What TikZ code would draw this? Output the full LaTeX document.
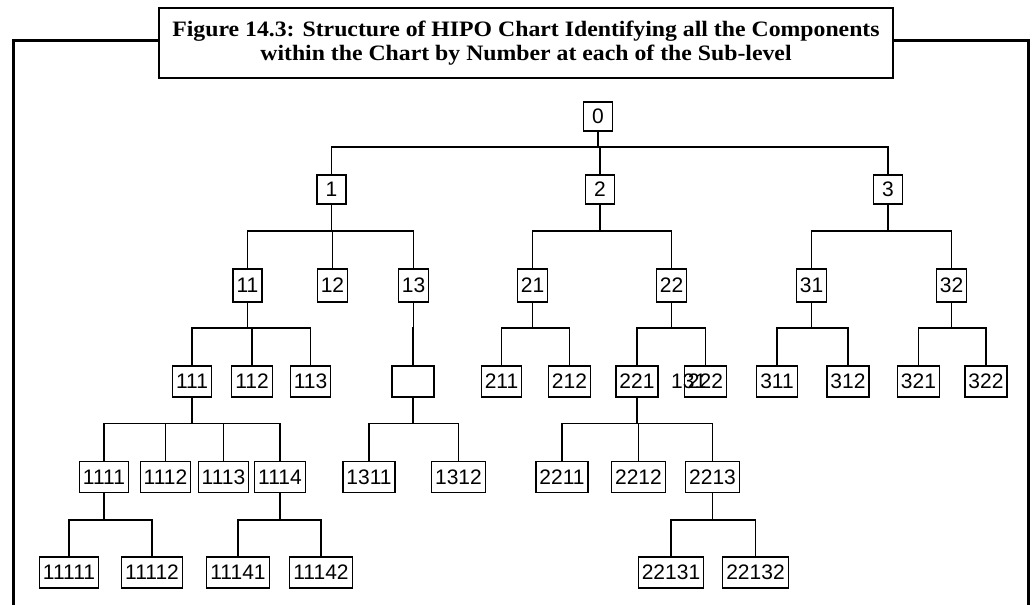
\documentclass[tikz,border=0pt]{standalone}
\usepackage{fontspec}
\setmainfont{Liberation Serif}
\setsansfont{Liberation Sans}
\newfontfamily\titlefont{Liberation Serif}[FakeStretch=1.08]
\newcommand{\hconn}[3]{\draw[conn] (#1.south) -- (#1.south |- 0,#3) -| (#2.north);}
\begin{document}
\begin{tikzpicture}[x=1pt,y=-1pt,
  box/.style={draw, line width=1.2pt, font=\sffamily\fontsize{21}{21}\selectfont,
    inner xsep=3.5pt, inner ysep=0pt, minimum height=31pt, minimum width=29pt},
  topbox/.style={box, minimum height=29pt},
  conn/.style={line width=1.2pt},
  frame/.style={line width=3pt},
  titlebox/.style={draw, fill=white, line width=2.5pt, minimum width=734pt,
    minimum height=70pt, align=center, inner sep=0pt,
    font=\titlefont\bfseries\fontsize{22}{24}\selectfont}]
\useasboundingbox (0,0) rectangle (1034,605);
% outer frame
\draw[frame] (13,606) -- (13,40) -- (1028,40) -- (1028,606);
% title
\node[titlebox] (title) at (526,43)
  {Figure 14.3: Structure of HIPO Chart Identifying all the Components\\
   within the Chart by Number at each of the Sub-level};
% level 0
\node[topbox] (n0) at (598,116.5) {0};
% level 1
\node[topbox] (n1) at (331.5,189.5) {1};
\node[topbox] (n2) at (600,189.5) {2};
\node[topbox] (n3) at (888,189.5) {3};
% level 2
\node[box, minimum height=33pt] (n11) at (247.5,285.5) {11};
\node[box, minimum height=33pt] (n12) at (332.5,285.5) {12};
\node[box, minimum height=33pt] (n13) at (413.5,285.5) {13};
\node[box, minimum height=33pt] (n21) at (532.5,285.5) {21};
\node[box, minimum height=33pt] (n22) at (671.5,285.5) {22};
\node[box, minimum height=33pt] (n31) at (811.5,285.5) {31};
\node[box, minimum height=33pt] (n32) at (951.5,285.5) {32};
% level 3
\node[box] (n111) at (192,381.5) {111};
\node[box] (n112) at (252,381.5) {112};
\node[box] (n113) at (310.5,381.5) {113};
\node[box, minimum width=42pt] (n13x) at (413,381.5) {};
\node[box] (n211) at (501.5,381.5) {211};
\node[box] (n212) at (569.5,381.5) {212};
\node[box] (n221) at (637,381.5) {221};
\node[box] (n222) at (705.5,381.5) {222};
\node[box] (n311) at (777,381.5) {311};
\node[box] (n312) at (848,381.5) {312};
\node[box] (n321) at (918.5,381.5) {321};
\node[box] (n322) at (986,381.5) {322};
\node[font=\sffamily\fontsize{21}{21}\selectfont, inner sep=0pt, anchor=west] (lbl131) at (671,381.5) {131};
% level 4
\node[box] (n1111) at (104,477) {1111};
\node[box] (n1112) at (165.5,477) {1112};
\node[box] (n1113) at (223.5,477) {1113};
\node[box] (n1114) at (280,477) {1114};
\node[box] (n1311) at (369,477) {1311};
\node[box] (n1312) at (458.5,477) {1312};
\node[box] (n2211) at (562,477) {2211};
\node[box] (n2212) at (638.5,477) {2212};
\node[box] (n2213) at (712.5,477) {2213};
% level 5
\node[box] (n11111) at (69,572.5) {11111};
\node[box] (n11112) at (152,572.5) {11112};
\node[box] (n11141) at (238,572.5) {11141};
\node[box] (n11142) at (321,572.5) {11142};
\node[box] (n22131) at (671,572.5) {22131};
\node[box] (n22132) at (755.5,572.5) {22132};
% connectors
\foreach \c in {n1,n2,n3} {\hconn{n0}{\c}{147}}
\foreach \c in {n11,n12,n13} {\hconn{n1}{\c}{231}}
\foreach \c in {n21,n22} {\hconn{n2}{\c}{231}}
\foreach \c in {n31,n32} {\hconn{n3}{\c}{231}}
\foreach \c in {n111,n112,n113} {\hconn{n11}{\c}{328}}
\hconn{n13}{n13x}{328}
\foreach \c in {n211,n212} {\hconn{n21}{\c}{328}}
\foreach \c in {n221,n222} {\hconn{n22}{\c}{328}}
\foreach \c in {n311,n312} {\hconn{n31}{\c}{328}}
\foreach \c in {n321,n322} {\hconn{n32}{\c}{328}}
\foreach \c in {n1111,n1112,n1113,n1114} {\hconn{n111}{\c}{423.5}}
\foreach \c in {n1311,n1312} {\hconn{n13x}{\c}{423.5}}
\foreach \c in {n2211,n2212,n2213} {\hconn{n221}{\c}{423.5}}
\foreach \c in {n11111,n11112} {\hconn{n1111}{\c}{520}}
\foreach \c in {n11141,n11142} {\hconn{n1114}{\c}{520}}
\foreach \c in {n22131,n22132} {\hconn{n2213}{\c}{520}}
\end{tikzpicture}
\end{document}
